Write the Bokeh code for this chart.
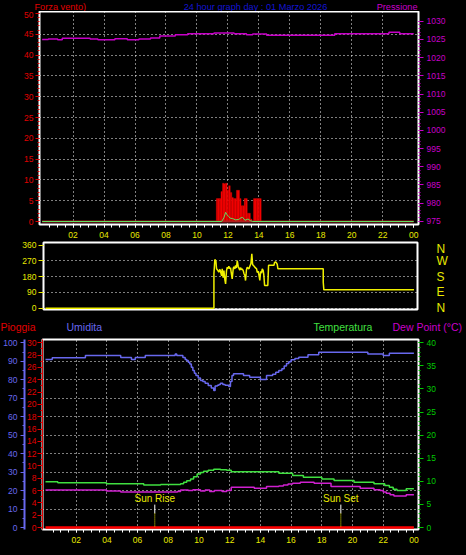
from bokeh.plotting import figure
from bokeh.models import Range1d, LinearAxis, FixedTicker, Grid
from bokeh.layouts import column, row
from bokeh.embed import file_html
from bokeh.resources import INLINE
from bokeh.core.properties import value

# ---------------- data ----------------
top_titles = ["Forza vento)", "24 hour graph day : 01 Marzo 2026", "Pressione"]
low_titles = ["Pioggia", "Umidita", "Temperatura", "Dew Point (°C)"]
hour_ticks = [2, 4, 6, 8, 10, 12, 14, 16, 18, 20, 22, 24]
hour_labels = ["02", "04", "06", "08", "10", "12", "14", "16", "18", "20", "22", "00"]
wind_ticks = [0, 5, 10, 15, 20, 25, 30, 35, 40, 45, 50]
press_ticks = [975, 980, 985, 990, 995, 1000, 1005, 1010, 1015, 1020, 1025, 1030]
dir_ticks = [0, 90, 180, 270, 360]
compass = ["N", "E", "S", "W", "N"]
hum_ticks = [0, 10, 20, 30, 40, 50, 60, 70, 80, 90, 100]
rain_ticks = [0, 2, 4, 6, 8, 10, 12, 14, 16, 18, 20, 22, 24, 26, 28, 30]
temp_ticks = [0, 5, 10, 15, 20, 25, 30, 35, 40]

# pressure (hPa), step series
press_h = [0.0, 0.4, 1.0, 1.3, 3.1, 3.6, 4.7, 5.5, 6.25, 7.0, 7.6, 8.6, 9.4, 11.1,
           12.4, 13.2, 13.6, 14.5, 18.9, 22.4, 23.1, 24.0]
press_v = [1025.0, 1025.15, 1024.9, 1025.35, 1025.15, 1024.9, 1025.2, 1024.9, 1025.1,
           1025.4, 1025.95, 1026.3, 1026.6, 1026.8, 1026.6, 1026.3, 1026.5, 1026.2,
           1026.6, 1027.0, 1026.6, 1026.6]

# wind gust bars
gust_h = [11.3, 11.4, 11.5, 11.6, 11.7, 11.8, 11.9, 12.0, 12.1, 12.2, 12.3, 12.4, 12.5,
          12.6, 12.7, 12.8, 12.9, 13.0, 13.1, 13.2, 13.3, 13.4, 13.5, 13.6, 13.7, 13.8,
          13.9, 14.0, 14.1]
gust_v = [5.5, 5.5, 5.5, 7.2, 9.2, 9.1, 9.2, 7.5, 8.6, 7.0, 5.8, 5.5, 5.5, 7.5, 7.5, 5.5,
          3.8, 3.8, 5.5, 5.5, 2.0, 2.0, 0.6, 0.0, 5.5, 5.5, 5.5, 5.5, 5.5]
base_h = [0, 24]
base_v = [0, 0]
# mean wind speed
wind_h = [0, 11.6, 11.75, 11.85, 11.95, 12.05, 12.15, 12.3, 12.5, 12.7, 12.85, 12.95,
          13.1, 13.3, 13.45, 13.6, 24]
wind_v = [0, 0, 1.0, 2.2, 1.6, 1.2, 0.8, 0.7, 0.4, 0.5, 0.9, 1.0, 0.3, 0.6, 0.2, 0, 0]

# wind direction (degrees)
dir_h = [0, 10.97, 10.97, 11.03, 11.10, 11.14, 11.23, 11.29, 11.36, 11.40, 11.47, 11.51,
         11.57, 11.62, 11.68, 11.73, 11.79, 11.84, 11.90, 11.94, 12.01, 12.05, 12.12,
         12.16, 12.23, 12.27, 12.33, 12.38, 12.44, 12.49, 12.55, 12.60, 12.66, 12.70,
         12.77, 12.81, 12.88, 12.92, 12.99, 13.03, 13.09, 13.14, 13.20, 13.25, 13.31,
         13.38, 13.44, 13.49, 13.53, 13.59, 13.68, 13.75, 13.79, 13.86, 13.92, 13.96,
         14.01, 14.07, 14.12, 14.18, 14.22, 14.27, 14.40, 14.48, 14.53, 14.62, 14.88,
         14.92, 14.98, 15.05, 15.09, 15.14, 18.09, 18.09, 18.13, 24.0]
dir_v = [0, 0, 196, 278, 270, 225, 215, 206, 222, 210, 185, 225, 175, 215, 165, 139, 215,
         234, 226, 240, 225, 232, 190, 168, 228, 236, 225, 245, 230, 272, 240, 228, 218,
         232, 220, 225, 215, 200, 185, 158, 220, 234, 228, 225, 240, 255, 311, 250, 245,
         240, 230, 225, 205, 210, 180, 159, 210, 200, 225, 215, 190, 130, 130, 130, 245,
         245, 245, 261, 265, 258, 252, 225, 225, 149, 105, 105]

# humidity (%)
hum_h = [0.0, 0.44, 2.6, 4.9, 5.6, 5.85, 6.5, 8.45, 8.55, 8.95, 9.1, 9.2, 9.3, 9.4, 9.5,
         9.6, 9.7, 9.8, 9.95, 10.1, 10.25, 10.4, 10.6, 10.8, 10.96, 11.05, 11.2, 11.3,
         11.4, 11.55, 11.7, 11.94, 12.05, 12.15, 12.25, 12.9, 13.3, 14.0, 14.4, 14.8,
         15.0, 15.2, 15.4, 15.55, 15.7, 15.85, 16.0, 16.25, 16.5, 17.1, 17.8, 21.0, 22.0,
         22.4, 24.0]
hum_v = [91.0, 91.9, 93.1, 92.0, 91.0, 92.0, 93.1, 94.0, 93.1, 92.0, 91.0, 90.4, 89.5,
         88.6, 86.8, 85.0, 83.5, 82.3, 81.0, 79.6, 79.0, 78.1, 76.9, 75.5, 74.2, 76.6,
         77.0, 77.4, 78.1, 77.5, 77.0, 76.3, 79.0, 82.3, 83.2, 82.3, 81.4, 80.1, 82.3,
         83.0, 84.1, 85.0, 86.0, 87.5, 88.8, 89.8, 90.8, 91.5, 92.2, 93.5, 94.9, 94.0,
         93.1, 94.4, 94.4]

# temperature (C)
temp_h = [0.0, 0.8, 3.97, 6.4, 7.5, 8.8, 9.0, 9.2, 9.45, 9.65, 9.88, 10.1, 10.3, 10.6,
          10.96, 11.4, 11.8, 12.1, 15.2, 16.1, 16.8, 18.0, 18.8, 20.1, 21.4, 22.1, 22.4,
          22.65, 22.9, 23.5, 24.0]
temp_v = [9.9, 9.7, 9.45, 9.2, 9.3, 9.5, 9.8, 10.1, 10.5, 11.0, 11.6, 11.9, 12.2, 12.4,
          12.6, 12.5, 12.4, 12.05, 11.75, 11.25, 10.9, 10.5, 10.2, 9.8, 9.45, 9.1, 8.7,
          8.3, 8.0, 8.4, 8.4]

# dew point (C)
dew_h = [0.0, 3.97, 4.9, 8.6, 8.8, 9.3, 9.6, 10.1, 10.4, 10.7, 11.0, 11.5, 11.8, 12.1,
         13.6, 14.4, 15.2, 15.5, 15.8, 16.1, 16.6, 17.5, 18.6, 20.5, 21.4, 21.8, 22.0,
         22.2, 22.45, 22.7, 23.5, 24.0]
dew_v = [8.15, 7.9, 7.7, 7.8, 8.1, 8.0, 8.2, 7.9, 8.1, 7.8, 8.0, 7.8, 8.0, 8.7, 8.5, 8.9,
         9.0, 9.2, 9.4, 9.6, 9.8, 9.6, 8.9, 8.5, 8.2, 8.0, 7.7, 7.4, 7.1, 6.8, 7.1, 7.1]

# rain (mm)
rain_h = [0, 24]
rain_v = [0, 0]

# sun events
sun_names = ["Sun Rise", "Sun Set"]
sun_h = [7.12, 19.24]

# ---------------- styling ----------------
FONT = "Liberation Sans"
TICK_FS = "8.5px"
TITLE_FS = "10.5px"
RED = "#E00000"
BLUE_T = "#1414D2"
MAG = "#C800C8"
YEL = "#E8E800"
GRN = "#00C800"
HUMC = "#6868EE"
TEMPC = "#40E040"
half_hours = [h / 2 for h in range(1, 49)]


def make_fig(h, xr, yr, ml, mr, mt, mb, xloc):
    p = figure(width=466, height=h, x_range=xr, y_range=yr,
               output_backend="svg", toolbar_location=None,
               x_axis_location=xloc, y_axis_location="left",
               min_border_left=ml, min_border_right=mr,
               min_border_top=mt, min_border_bottom=mb,
               background_fill_color="black", border_fill_color="black",
               outline_line_color="white", outline_line_width=2)
    p.grid.visible = False
    return p


def strip(h):
    # a thin text-only band (pixel coordinates, y downwards)
    p = figure(width=466, height=h, x_range=Range1d(0, 466), y_range=Range1d(h, 0),
               output_backend="svg", toolbar_location=None, title=None,
               x_axis_location=None, y_axis_location=None,
               min_border=0, min_border_left=0, min_border_right=0,
               min_border_top=0, min_border_bottom=0,
               background_fill_color="black", border_fill_color="black",
               outline_line_color=None)
    p.grid.visible = False
    return p


def put_text(p, x, y, txt, color, align="left", fs=TITLE_FS, baseline="middle"):
    p.text(x=[x], y=[y], text=[txt], text_color=color, text_align=align,
           text_baseline=baseline, text_font=value(FONT), text_font_size=fs)


def style_axis(ax, color, tick_color=None, fs=TICK_FS, tick_out=4, minor_out=2, standoff=2):
    tc = tick_color or color
    ax.major_label_text_color = color
    ax.major_label_text_font = FONT
    ax.major_label_text_font_size = fs
    ax.major_tick_line_color = tc
    ax.minor_tick_line_color = tc
    ax.major_tick_in = 0
    ax.minor_tick_in = 0
    ax.major_tick_out = tick_out
    ax.minor_tick_out = minor_out
    ax.major_label_standoff = standoff
    ax.axis_line_color = None


def style_hours(ax):
    ax.ticker = FixedTicker(ticks=hour_ticks, minor_ticks=half_hours)
    ax.major_label_overrides = dict(zip(hour_ticks, hour_labels))
    style_axis(ax, YEL, tick_color="white", tick_out=3, minor_out=3, standoff=4)


def dotted_grid(p, dim, ticks):
    p.add_layout(Grid(dimension=dim, ticker=FixedTicker(ticks=ticks),
                      grid_line_color="white", grid_line_dash="1 3", grid_line_width=1))


# ---------------- title band 1 ----------------
t1 = strip(11)
put_text(t1, 34, 5.3, top_titles[0], RED, fs="9.2px")
put_text(t1, 255, 5.3, top_titles[1], BLUE_T, align="center", fs="9.2px")
put_text(t1, 417, 5.3, top_titles[2], MAG, align="right", fs="9.2px")

# ---------------- panel 1: wind + pressure ----------------
p1 = make_fig(230, Range1d(-0.17, 24.31), Range1d(-0.72, 50.48), 39, 48, 0, 17, "below")
p1.extra_y_ranges = {"press": Range1d(974.1, 1032.7)}
style_hours(p1.xaxis[0])
ay = p1.yaxis[0]
ay.ticker = FixedTicker(ticks=wind_ticks, minor_ticks=list(range(0, 51)))
style_axis(ay, RED)
ar = LinearAxis(y_range_name="press",
                ticker=FixedTicker(ticks=press_ticks, minor_ticks=list(range(975, 1031))))
style_axis(ar, MAG, tick_out=5, standoff=3)
p1.add_layout(ar, "right")
dotted_grid(p1, 0, hour_ticks[:-1])
dotted_grid(p1, 1, wind_ticks[1:-1])

p1.step(press_h, press_v, mode="after", y_range_name="press", line_color=MAG, line_width=1.5)
p1.vbar(x=gust_h, top=gust_v, width=0.1, fill_color="#FF0000", line_color="#C00000",
        line_width=0.4)
p1.line(base_h, base_v, line_color="#B02020", line_width=2)
p1.line(wind_h, wind_v, line_color="#60E060", line_width=1)

# ---------------- panel 2: wind direction ----------------
p2 = make_fig(77, Range1d(-0.13, 24.23), Range1d(-7.4, 375.4), 43, 49, 1, 9, None)
a2 = p2.yaxis[0]
a2.ticker = FixedTicker(ticks=dir_ticks)
style_axis(a2, YEL, tick_out=5, standoff=2)
a2r = LinearAxis(ticker=FixedTicker(ticks=dir_ticks),
                 major_label_overrides=dict(zip(dir_ticks, compass)))
style_axis(a2r, YEL, fs="12px", tick_out=0, minor_out=0, standoff=19)
p2.add_layout(a2r, "right")
dotted_grid(p2, 1, [0, 90, 180, 270])
p2.line(dir_h, dir_v, line_color="#F0F000", line_width=1.5)

# ---------------- title band 3 ----------------
t3 = strip(18)
put_text(t3, 0, 8.7, low_titles[0], RED)
put_text(t3, 66, 8.7, low_titles[1], HUMC)
put_text(t3, 313, 8.7, low_titles[2], TEMPC)
put_text(t3, 392, 8.7, low_titles[3], MAG)

# ---------------- panel 3: humidity / temp / dew / rain ----------------
p3 = make_fig(219, Range1d(-0.195, 24.3), Range1d(-1.08, 101.8), 42, 48, 3, 26, "below")
p3.extra_y_ranges = {"rain": Range1d(-0.324, 30.54), "temp": Range1d(-0.432, 40.72)}
style_hours(p3.xaxis[0])
a3 = p3.yaxis[0]
a3.y_range_name = "rain"
a3.ticker = FixedTicker(ticks=rain_ticks, minor_ticks=list(range(0, 31)))
style_axis(a3, RED, tick_out=5, standoff=1)
a3.axis_line_color = RED
# empty spacer between the two left axes
a3s = LinearAxis(ticker=FixedTicker(ticks=[]), major_tick_out=5, major_tick_in=0,
                 minor_tick_out=0, minor_tick_in=0, major_tick_line_color=None,
                 minor_tick_line_color=None, axis_line_color=None)
p3.add_layout(a3s, "left")
a3h = LinearAxis(ticker=FixedTicker(ticks=hum_ticks, minor_ticks=list(range(0, 101, 5))))
style_axis(a3h, HUMC, tick_out=4, standoff=3)
a3h.axis_line_color = HUMC
a3h.axis_line_width = 2
p3.add_layout(a3h, "left")
a3t = LinearAxis(y_range_name="temp",
                 ticker=FixedTicker(ticks=temp_ticks, minor_ticks=list(range(0, 41))))
style_axis(a3t, GRN, tick_out=5, standoff=3)
p3.add_layout(a3t, "right")
dotted_grid(p3, 0, hour_ticks[:-1])
dotted_grid(p3, 1, hum_ticks[1:-1])

p3.step(hum_h, hum_v, mode="after", line_color=HUMC, line_width=1.5)
p3.step(temp_h, temp_v, mode="after", y_range_name="temp", line_color=TEMPC, line_width=1.5)
p3.step(dew_h, dew_v, mode="after", y_range_name="temp", line_color="#D020D0", line_width=1.5)
p3.line(rain_h, rain_v, y_range_name="rain", line_color="#FF0000", line_width=2.5)
p3.segment(x0=sun_h, y0=[12.4, 12.4], x1=sun_h, y1=[7.6, 7.6], line_color="white", line_width=1)
p3.segment(x0=sun_h, y0=[7.6, 7.6], x1=sun_h, y1=[0, 0], line_color=YEL, line_width=1,
           line_dash="1 1")
p3.text(x=sun_h, y=[15.5, 15.5], text=sun_names, text_align="center", text_baseline="middle",
        text_color=YEL, text_font=value(FONT), text_font_size="10px")

# each band wrapped on its own so the plot frames are not forced into alignment
bands = [row(f, spacing=0, styles={"background-color": "black"}) for f in (t1, p1, p2, t3, p3)]
layout = column(*bands, spacing=0, styles={"background-color": "black"})

open("out.html", "w").write(file_html(layout, INLINE))
